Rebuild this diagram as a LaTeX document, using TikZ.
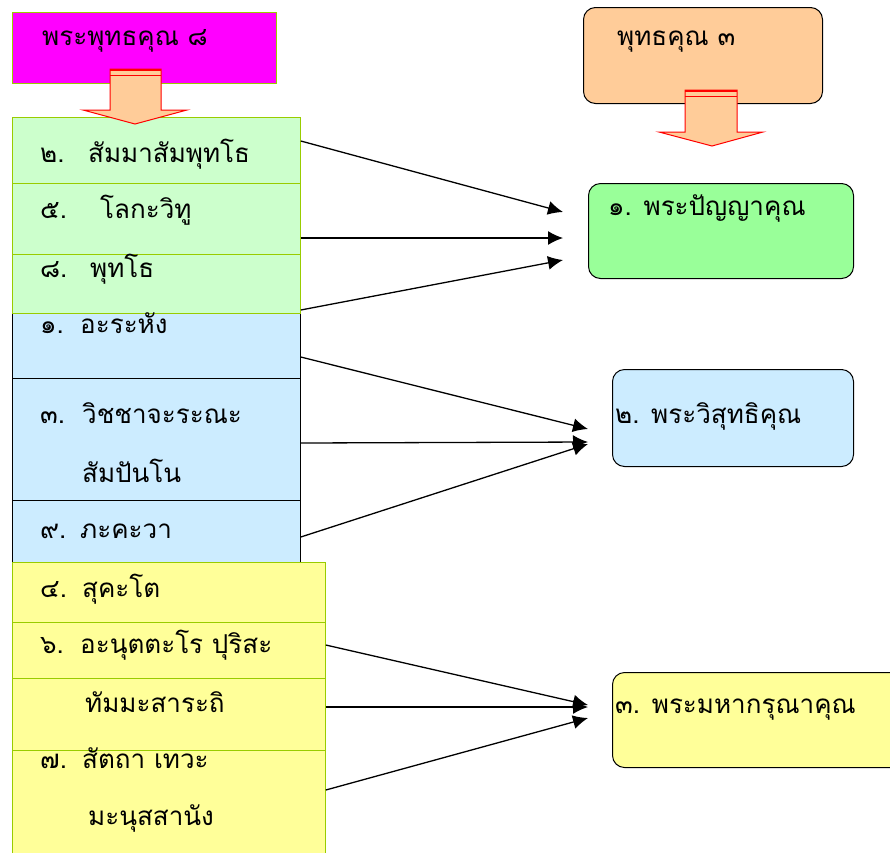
\documentclass[tikz,border=0pt]{standalone}
\usepackage{fontspec}
\setmainfont[Script=Thai]{Loma}
\usetikzlibrary{arrows.meta}
\definecolor{lborder}{HTML}{99CC00}
\definecolor{magbox}{HTML}{FF00FF}
\definecolor{orbox}{HTML}{FFCC99}
\definecolor{lgreen}{HTML}{CCFFCC}
\definecolor{lblue}{HTML}{CCECFF}
\definecolor{lyellow}{HTML}{FFFF99}
\definecolor{mgreen}{HTML}{99FF99}
\tikzset{
  box/.style={draw, anchor=north west, inner sep=0pt, line width=0.8pt},
  gbox/.style={box, fill=lgreen, draw=lborder},
  bbox/.style={box, fill=lblue, draw=black},
  ybox/.style={box, fill=lyellow, draw=lborder},
  rbox/.style={box, draw=black, rounded corners=12pt, line width=1pt},
  txt/.style={anchor=base west, inner sep=0pt, font=\fontsize{26}{30}\selectfont},
  arr/.style={-{Latex[length=15pt,width=14pt]}, line width=1.3pt},
  blk/.style={fill=orbox, draw=red, line width=1pt, line join=miter}
}
\begin{document}
\begin{tikzpicture}[x=1pt,y=-1pt]
\useasboundingbox (0,0) rectangle (890,852);

% top boxes
\node[box, fill=magbox, draw=lborder, minimum width=264pt, minimum height=71pt] (mag) at (12,12) {};
\node[txt] (magt) at (42,45) {พระพุทธคุณ ๘};
\node[rbox, fill=orbox, minimum width=239pt, minimum height=96pt] (ora) at (583,7) {};
\node[txt] (orat) at (617,45) {พุทธคุณ ๓};

% blue boxes (drawn first)
\node[bbox, minimum width=288pt, minimum height=78pt] (b1) at (12,300) {};
\node[bbox, minimum width=288pt, minimum height=122pt] (b2) at (12,378) {};
\node[bbox, minimum width=288pt, minimum height=75pt] (b3) at (12,500) {};

% green boxes
\node[gbox, minimum width=288pt, minimum height=66pt] (g1) at (12,117) {};
\node[gbox, minimum width=288pt, minimum height=71pt] (g2) at (12,183) {};
\node[gbox, minimum width=288pt, minimum height=59pt] (g3) at (12,254) {};

% yellow boxes
\node[ybox, minimum width=313pt, minimum height=60pt] (y1) at (12,562) {};
\node[ybox, minimum width=313pt, minimum height=56pt] (y2) at (12,622) {};
\node[ybox, minimum width=313pt, minimum height=72pt] (y3) at (12,678) {};
\node[ybox, minimum width=313pt, minimum height=110pt] (y4) at (12,750) {};

% block arrows
\draw[blk] (110,69) -- (161,69) -- (161,110) -- (187,110) -- (135,124) -- (83,110) -- (110,110) -- cycle;
\draw[red, line width=1.5pt] (110,70) -- (161,70);
\draw[red, line width=0.8pt] (110,75) -- (161,75);
\draw[blk] (685,90) -- (737,90) -- (737,132) -- (763,132) -- (712,146) -- (659,132) -- (685,132) -- cycle;
\draw[red, line width=1.5pt] (685,91) -- (737,91);
\draw[red, line width=0.8pt] (685,96) -- (737,96);

% left texts
\node[txt] (t2) at (40,162) {๒.};
\node[txt] (t2w) at (88,162) {สัมมาสัมพุทโธ};
\node[txt] (t5) at (40,218) {๕.};
\node[txt] (t5w) at (100,218) {โลกะวิทู};
\node[txt] (t8) at (40,277) {๘.};
\node[txt] (t8w) at (90,277) {พุทโธ};
\node[txt] (t1) at (40,333) {๑.};
\node[txt] (t1w) at (80,333) {อะระหัง};
\node[txt] (t3) at (40,423) {๓.};
\node[txt] (t3w) at (82,423) {วิชชาจะระณะ};
\node[txt] (t3x) at (82,482) {สัมปันโน};
\node[txt] (t9) at (40,538) {๙.};
\node[txt] (t9w) at (80,538) {ภะคะวา};
\node[txt] (t4) at (40,597) {๔.};
\node[txt] (t4w) at (82,597) {สุคะโต};
\node[txt] (t6) at (40,653) {๖.};
\node[txt] (t6w) at (80,653) {อะนุตตะโร ปุริสะ};
\node[txt] (t6x) at (85,712) {ทัมมะสาระถิ};
\node[txt] (t7) at (40,768) {๗.};
\node[txt] (t7w) at (82,768) {สัตถา เทวะ};
\node[txt] (t7x) at (88,825) {มะนุสสานัง};

% right boxes
\node[rbox, fill=mgreen, minimum width=265pt, minimum height=95pt] (pg) at (588,183) {};
\node[txt] (pgt) at (608,215) {๑. พระปัญญาคุณ};
\node[rbox, fill=lblue, minimum width=241pt, minimum height=97pt] (pb) at (612,369) {};
\node[txt] (pbt) at (615,423) {๒. พระวิสุทธิคุณ};
\node[rbox, fill=lyellow, minimum width=290pt, minimum height=95pt] (py) at (612,672) {};
\node[txt] (pyt) at (615,713) {๓. พระมหากรุณาคุณ};

% arrow tips
\coordinate (a1) at (563,212);
\coordinate (a2) at (563,238);
\coordinate (a3) at (563,260);
\coordinate (a4) at (588,429);
\coordinate (a5) at (588,442);
\coordinate (a6) at (588,444);
\coordinate (a7) at (588,705);
\coordinate (a8) at (588,707);
\coordinate (a9) at (588,718);

\draw[arr] (g1.east |- 0,141) -- (a1);
\draw[arr] (g2.east |- 0,238) -- (a2);
\draw[arr] (g3.east |- 0,310) -- (a3);
\draw[arr] (b1.east |- 0,357) -- (a4);
\draw[arr] (b2.east |- 0,443) -- (a5);
\draw[arr] (b3.east |- 0,537) -- (a6);
\draw[arr] (y2.east |- 0,645) -- (a7);
\draw[arr] (y3.east |- 0,707) -- (a8);
\draw[arr] (y4.east |- 0,790) -- (a9);
\end{tikzpicture}
\end{document}
